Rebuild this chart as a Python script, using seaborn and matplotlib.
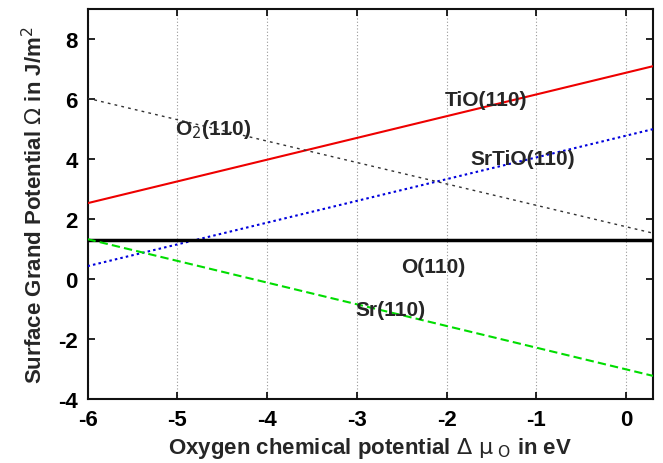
import matplotlib
matplotlib.use("Agg")
import matplotlib.pyplot as plt
import seaborn as sns
import pandas as pd

# Oxygen chemical potential range (eV) and surface grand potentials (J/m^2) at its ends
mu_o = [-6.0, 0.3]
tio_110 = [2.53, 7.10]
srtio_110 = [0.43, 5.00]
o2_110 = [6.03, 1.53]
o_110 = [1.30, 1.30]
sr_110 = [1.33, -3.23]

series = {
    "TiO(110)": tio_110,
    "SrTiO(110)": srtio_110,
    "O2(110)": o2_110,
    "O(110)": o_110,
    "Sr(110)": sr_110,
}
df = pd.concat(
    [pd.DataFrame({"mu": mu_o, "omega": v, "surface": k}) for k, v in series.items()],
    ignore_index=True,
)

x_ticks = [-6, -5, -4, -3, -2, -1, 0]
y_ticks = [-4, -2, 0, 2, 4, 6, 8]

sns.set_theme(style="ticks")
plt.rcParams["font.family"] = ["Liberation Sans", "DejaVu Sans"]
plt.rcParams["mathtext.fontset"] = "dejavusans"
plt.rcParams["axes.unicode_minus"] = False

fig, ax = plt.subplots(figsize=(6.63, 4.64), dpi=100)
fig.subplots_adjust(left=0.132, right=0.985, top=0.978, bottom=0.138)

styles = {
    "TiO(110)": dict(color="#ee0000", lw=1.5, ls="-"),
    "SrTiO(110)": dict(color="#0000dd", lw=1.5, ls=(0, (1.2, 1.5))),
    "O2(110)": dict(color="#333333", lw=1.0, ls=(0, (2, 3))),
    "O(110)": dict(color="#000000", lw=2.5, ls="-"),
    "Sr(110)": dict(color="#00dd00", lw=1.5, ls=(0, (4, 2))),
}
for name, st in styles.items():
    sub = df[df["surface"] == name]
    sns.lineplot(data=sub, x="mu", y="omega", ax=ax, color=st["color"],
                 linewidth=st["lw"], linestyle=st["ls"], legend=False, zorder=3)

ax.set_xlim(-6, 0.3)
ax.set_ylim(-4, 9)
ax.set_xticks(x_ticks)
ax.set_yticks(y_ticks)
ax.xaxis.grid(True, color="#999999", linestyle=(0, (1, 2)), linewidth=0.8)
ax.yaxis.grid(False)
ax.tick_params(direction="in", length=5, width=1.2, top=True, right=True,
               labelsize=16, colors="black", pad=7)
for lab in ax.get_xticklabels() + ax.get_yticklabels():
    lab.set_fontweight("bold")
for sp in ax.spines.values():
    sp.set_visible(True)
    sp.set_linewidth(1.5)
    sp.set_color("#111111")

ax.set_xlabel(r"Oxygen chemical potential $\Delta\ \mathrm{\mu}_{\ \rm O}$ in eV",
              fontsize=16, fontweight="bold", labelpad=4)
ax.set_ylabel(r"Surface Grand Potential $\Omega$ in J/m$^2$",
              fontsize=16, fontweight="bold", labelpad=8)

label_kw = dict(fontsize=15, fontweight="bold", ha="center", va="center", zorder=4)
ax.text(-1.56, 6.0, "TiO(110)", **label_kw)
ax.text(-1.15, 4.03, "SrTiO(110)", **label_kw)
ax.text(-4.6, 5.03, r"O$_2$(110)", **label_kw)
ax.text(-2.15, 0.43, "O(110)", **label_kw)
ax.text(-2.62, -1.0, "Sr(110)", **label_kw)

fig.savefig("out.png", dpi=100)
